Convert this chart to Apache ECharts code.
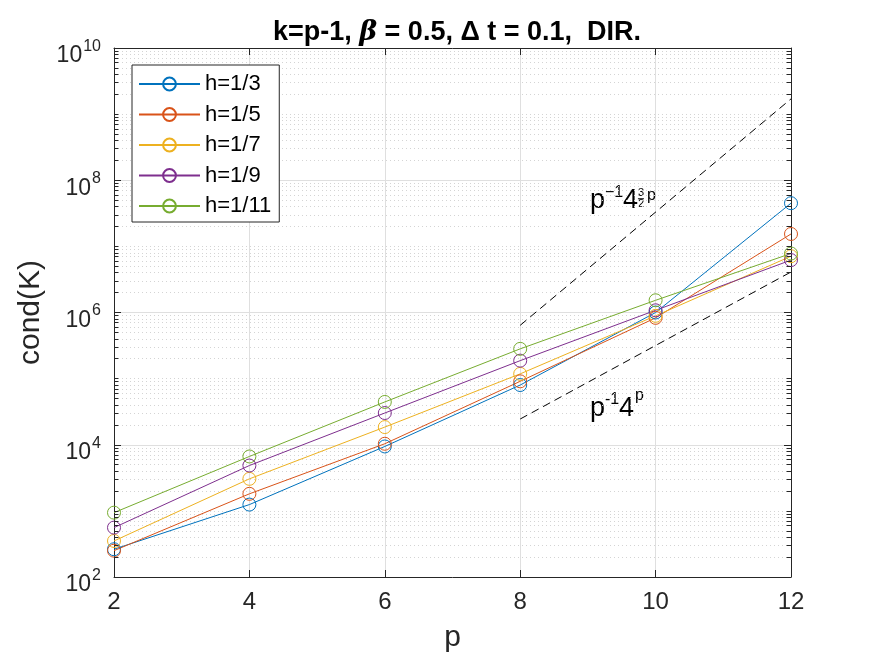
<!DOCTYPE html>
<html>
<head>
<meta charset="utf-8">
<script src="https://cdn.jsdelivr.net/npm/echarts@6/dist/echarts.min.js"></script>
<style>
html, body { margin: 0; padding: 0; background: #fff; }
#main { width: 875px; height: 656px; }
</style>
</head>
<body>
<div id="main"></div>
<script>
// data
var pVals = [2, 4, 6, 8, 10, 12];
var h3  = [263, 1245, 9420, 80000, 1.0e6, 4.5e7];
var h5  = [250, 1810, 10350, 91000, 8.3e5, 1.54e7];
var h7  = [351, 3050, 18500, 118000, 8.9e5, 7.1e6];
var h9  = [558, 4850, 30200, 187000, 1.08e6, 6.2e6];
var h11 = [940, 6650, 44400, 282000, 1.53e6, 7.8e6];
var names = ['h=1/3', 'h=1/5', 'h=1/7', 'h=1/9', 'h=1/11'];
var colors = ['#0072BD', '#D95319', '#EDB120', '#7E2F8E', '#77AC30'];

// reference slopes (two end points each)
var refUpperP = [8, 12], refUpper = [6.4e5, 1.7e9];
var refLowerP = [8, 12], refLower = [2.45e4, 4.1e6];

var font = 'Liberation Sans, Arial, Helvetica, sans-serif';

function pairs(xs, ys) {
    return xs.map(function (x, i) { return [x, ys[i]]; });
}

// dotted minor grid at 2..9 x 10^k and at odd decades, plus minor ticks on both sides
var minorLines = [];
var minorTicks = [];
for (var k = 2; k < 10; k++) {
    for (var m = 2; m <= 10; m++) {
        if (m === 10 && (k + 1) % 2 === 0) continue;
        var v = m * Math.pow(10, k);
        minorLines.push({yAxis: v});
        minorTicks.push([{coord: [2, v]}, {coord: [2.065, v]}]);
        minorTicks.push([{coord: [11.935, v]}, {coord: [12, v]}]);
    }
}

var all = [h3, h5, h7, h9, h11];
var series = all.map(function (d, i) {
    return {
        name: names[i],
        type: 'line',
        data: pairs(pVals, d),
        symbol: 'circle',
        symbolSize: 13,
        lineStyle: {width: 1, color: colors[i]},
        itemStyle: {color: 'rgba(0,0,0,0)', borderColor: colors[i], borderWidth: 1},
        z: 3
    };
});
series.push({
    type: 'line', data: pairs(refUpperP, refUpper), symbol: 'none', silent: true,
    lineStyle: {color: '#000', width: 1, type: [8, 5]}, z: 2,
    markLine: {
        silent: true, symbol: 'none', label: {show: false},
        lineStyle: {color: '#262626', type: 'solid', width: 1},
        data: minorTicks, z: 4
    }
});
series.push({
    type: 'line', data: pairs(refLowerP, refLower), symbol: 'none', silent: true,
    lineStyle: {color: '#000', width: 1, type: [8, 5]}, z: 2,
    markLine: {
        silent: true, symbol: 'none', label: {show: false},
        lineStyle: {color: '#d4d4d4', type: [1, 3], width: 1},
        data: minorLines, z: 1
    }
});

var option = {
    animation: false,
    backgroundColor: '#fff',
    textStyle: {fontFamily: font},
    title: {
        text: '{a|k=p-1, }{i|β}{a| = 0.5, Δ t = 0.1,  DIR.}',
        left: 452, top: 14, textAlign: 'center',
        textStyle: {
            fontSize: 27, fontWeight: 'bold', color: '#000',
            rich: {
                a: {fontSize: 27, fontWeight: 'bold', color: '#000', fontFamily: font},
                i: {fontSize: 27, fontStyle: 'italic', color: '#000', fontFamily: 'DejaVu Serif'}
            }
        }
    },
    legend: {
        data: names,
        orient: 'vertical',
        left: 132, top: 65,
        padding: [8, 8, 5, 6],
        itemWidth: 61, itemHeight: 16, itemGap: 8.5,
        backgroundColor: '#fff',
        borderColor: '#262626', borderWidth: 1, borderRadius: 0,
        textStyle: {fontSize: 22, lineHeight: 22, color: '#000', fontFamily: font}
    },
    grid: {left: 114, right: 84, top: 48, bottom: 79, containLabel: false, outerBoundsMode: 'none'},
    xAxis: [{
        type: 'value', min: 2, max: 12, interval: 2,
        name: 'p', nameLocation: 'middle', nameGap: 46,
        nameTextStyle: {fontSize: 30, color: '#262626'},
        axisLine: {lineStyle: {color: '#262626'}},
        axisTick: {inside: true, length: 7, lineStyle: {color: '#262626'}},
        axisLabel: {fontSize: 24, color: '#262626', margin: 13},
        splitLine: {show: true, lineStyle: {color: '#dfdfdf'}}
    }, {
        type: 'value', min: 2, max: 12, interval: 2, position: 'top',
        axisLine: {show: true, lineStyle: {color: '#262626'}},
        axisTick: {show: true, inside: true, length: 7, lineStyle: {color: '#262626'}},
        axisLabel: {show: false}, splitLine: {show: false}
    }],
    yAxis: [{
        type: 'log', logBase: 10, min: 1e2, max: 1e10, interval: 2,
        name: 'cond(K)', nameLocation: 'middle', nameGap: 64,
        nameTextStyle: {fontSize: 30, color: '#262626'},
        axisLine: {show: true, lineStyle: {color: '#262626'}},
        axisTick: {show: true, inside: true, length: 7, lineStyle: {color: '#262626'}},
        axisLabel: {
            margin: 13, color: '#262626',
            formatter: function (v) {
                return '{b|10}{s|' + Math.round(Math.log10(v)) + '}';
            },
            rich: {
                b: {fontSize: 23, color: '#262626', fontFamily: font, verticalAlign: 'top', padding: [16, 0, 0, 0]},
                s: {fontSize: 16, color: '#262626', fontFamily: font, verticalAlign: 'top', padding: [10, 0, 0, 1]}
            }
        },
        splitLine: {show: true, lineStyle: {color: '#dfdfdf'}}
    }, {
        type: 'log', logBase: 10, min: 1e2, max: 1e10, interval: 2, position: 'right',
        axisLine: {show: true, lineStyle: {color: '#262626'}},
        axisTick: {show: true, inside: true, length: 7, lineStyle: {color: '#262626'}},
        axisLabel: {show: false}, splitLine: {show: false}
    }],
    series: series
};

var chart = echarts.init(document.getElementById('main'));
chart.setOption(option);

// slope annotations, anchored in data coordinates
var up = chart.convertToPixel({gridIndex: 0}, [9.03, 4.98e7]);
var lo = chart.convertToPixel({gridIndex: 0}, [9.03, 3.51e4]);
var big = {fontSize: 27, fontFamily: font, fill: '#000'};
var sm = {fontSize: 16, fontFamily: font, fill: '#000'};
var tiny = {fontSize: 11, fontFamily: font, fill: '#000'};
function t(x, y, text, st) {
    return {type: 'text', x: x, y: y, style: Object.assign({text: text, verticalAlign: 'middle'}, st)};
}
chart.setOption({
    graphic: [
        {type: 'group', x: up[0], y: up[1], children: [
            t(0, 0, 'p', big),
            t(15, -8, '−1', sm),
            t(33, 0, '4', big),
            t(48, -7, '3', tiny),
            {type: 'line', shape: {x1: 48, y1: -1.5, x2: 54, y2: -1.5}, style: {stroke: '#000', lineWidth: 1}},
            t(48, 3.5, '2', tiny),
            t(57, -5, 'p', sm)
        ]},
        {type: 'group', x: lo[0], y: lo[1], children: [
            t(0, 0, 'p', big),
            t(15, -9, '-1', sm),
            t(29, 0, '4', big),
            t(45, -13, 'p', sm)
        ]}
    ]
});
</script>
</body>
</html>
